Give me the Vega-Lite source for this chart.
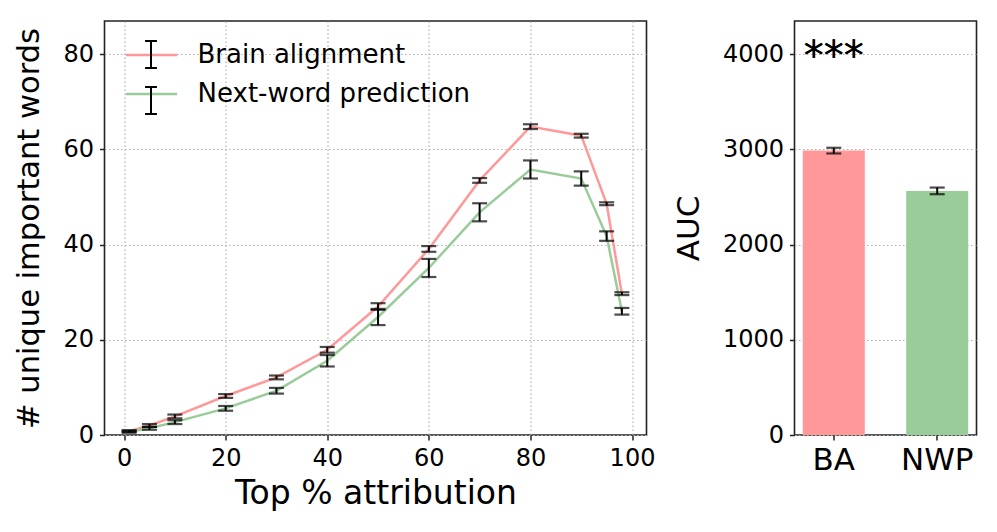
{
  "$schema": "https://vega.github.io/schema/vega-lite/v6.json",
  "padding": {"left": 13.5, "top": 20, "right": 5, "bottom": 5},
  "bounds": "flush",
  "spacing": 148,
  "resolve": {"scale": {"color": "independent"}, "legend": {"color": "independent"}},
  "config": {
    "font": "DejaVu Sans",
    "view": {"stroke": "#222222", "strokeWidth": 1.6},
    "axis": {
      "domain": false,
      "tickColor": "#222222",
      "tickSize": 5,
      "tickWidth": 1.5,
      "labelFontSize": 24,
      "labelColor": "black",
      "titleFontSize": 31,
      "titleFontWeight": "normal",
      "titleColor": "black",
      "gridColor": "#b0b0b0",
      "gridDash": [1.5, 2.5],
      "gridWidth": 1.2,
      "labelPadding": 6
    }
  },
  "hconcat": [
    {
      "width": 542,
      "height": 414,
      "data": {
        "values": [
          {"pct": 1, "series": "Brain alignment", "mean": 0.8, "lo": 0.6, "hi": 1.0},
          {"pct": 5, "series": "Brain alignment", "mean": 2.0, "lo": 1.7, "hi": 2.3},
          {"pct": 10, "series": "Brain alignment", "mean": 3.9, "lo": 3.5, "hi": 4.3},
          {"pct": 20, "series": "Brain alignment", "mean": 8.2, "lo": 7.8, "hi": 8.6},
          {"pct": 30, "series": "Brain alignment", "mean": 12.1, "lo": 11.7, "hi": 12.5},
          {"pct": 40, "series": "Brain alignment", "mean": 17.9, "lo": 17.3, "hi": 18.5},
          {"pct": 50, "series": "Brain alignment", "mean": 27.0, "lo": 26.3, "hi": 27.7},
          {"pct": 60, "series": "Brain alignment", "mean": 39.1, "lo": 38.5, "hi": 39.7},
          {"pct": 70, "series": "Brain alignment", "mean": 53.5, "lo": 53.0, "hi": 54.0},
          {"pct": 80, "series": "Brain alignment", "mean": 64.8, "lo": 64.3, "hi": 65.3},
          {"pct": 90, "series": "Brain alignment", "mean": 62.9, "lo": 62.5, "hi": 63.3},
          {"pct": 95, "series": "Brain alignment", "mean": 48.6, "lo": 48.3, "hi": 48.9},
          {"pct": 98, "series": "Brain alignment", "mean": 29.7, "lo": 29.4, "hi": 30.0},
          {"pct": 1, "series": "Next-word prediction", "mean": 0.7, "lo": 0.5, "hi": 0.9},
          {"pct": 5, "series": "Next-word prediction", "mean": 1.4, "lo": 1.1, "hi": 1.7},
          {"pct": 10, "series": "Next-word prediction", "mean": 2.7, "lo": 2.3, "hi": 3.1},
          {"pct": 20, "series": "Next-word prediction", "mean": 5.6, "lo": 5.1, "hi": 6.1},
          {"pct": 30, "series": "Next-word prediction", "mean": 9.3, "lo": 8.7, "hi": 9.9},
          {"pct": 40, "series": "Next-word prediction", "mean": 15.6, "lo": 14.4, "hi": 16.8},
          {"pct": 50, "series": "Next-word prediction", "mean": 24.8, "lo": 23.1, "hi": 26.5},
          {"pct": 60, "series": "Next-word prediction", "mean": 35.1, "lo": 33.2, "hi": 37.0},
          {"pct": 70, "series": "Next-word prediction", "mean": 46.8, "lo": 44.9, "hi": 48.7},
          {"pct": 80, "series": "Next-word prediction", "mean": 55.8, "lo": 53.9, "hi": 57.7},
          {"pct": 90, "series": "Next-word prediction", "mean": 53.9, "lo": 52.4, "hi": 55.4},
          {"pct": 95, "series": "Next-word prediction", "mean": 41.8, "lo": 40.8, "hi": 42.8},
          {"pct": 98, "series": "Next-word prediction", "mean": 26.0, "lo": 25.3, "hi": 26.7}
        ]
      },
      "encoding": {
        "x": {
          "field": "pct",
          "type": "quantitative",
          "scale": {"domain": [-3.85, 102.85], "nice": false, "zero": false},
          "axis": {"values": [0, 20, 40, 60, 80, 100], "title": "Top % attribution", "titleFontSize": 33, "grid": true, "titlePadding": 7}
        }
      },
      "layer": [
        {
          "mark": {"type": "line", "strokeWidth": 2.5},
          "encoding": {
            "y": {
              "field": "mean",
              "type": "quantitative",
              "scale": {"domain": [0, 87], "nice": false},
              "axis": {"values": [0, 20, 40, 60, 80], "title": "# unique important words", "titleFontSize": 30.5, "grid": true, "titlePadding": 18}
            },
            "color": {
              "field": "series",
              "type": "nominal",
              "scale": {"domain": ["Brain alignment", "Next-word prediction"], "range": ["#ff9999", "#99cc99"]},
              "legend": {
                "orient": "none", "legendX": 32, "legendY": 19, "title": null,
                "symbolType": "M-1.9,0L1.9,0", "symbolSize": 729, "symbolStrokeWidth": 2.5,
                "labelFontSize": 26, "labelColor": "black", "labelOffset": 31, "labelLimit": 500, "rowPadding": 11, "padding": 0
              }
            }
          }
        },
        {
          "mark": {"type": "rule", "color": "black", "strokeWidth": 2},
          "encoding": {
            "y": {"field": "lo", "type": "quantitative"},
            "y2": {"field": "hi"},
            "strokeDash": {
              "field": "series",
              "type": "nominal",
              "scale": {"domain": ["Brain alignment", "Next-word prediction"], "range": [[1, 0], [1, 0]]},
              "legend": {
                "orient": "none", "legendX": 32, "legendY": 19, "title": null,
                "symbolType": "M-0.44,-1L0.44,-1M0,-1L0,1M-0.44,1L0.44,1", "symbolSize": 729,
                "symbolStrokeColor": "black", "symbolStrokeWidth": 2, "symbolFillColor": "transparent",
                "labelFontSize": 26, "labelExpr": "''", "labelOffset": 31, "rowPadding": 11, "padding": 0
              }
            }
          }
        },
        {
          "mark": {"type": "tick", "color": "black", "orient": "horizontal", "size": 15, "thickness": 2.2},
          "encoding": {"y": {"field": "lo", "type": "quantitative"}}
        },
        {
          "mark": {"type": "tick", "color": "black", "orient": "horizontal", "size": 15, "thickness": 2.2},
          "encoding": {"y": {"field": "hi", "type": "quantitative"}}
        }
      ]
    },
    {
      "width": 182,
      "height": 414,
      "data": {
        "values": [
          {"model": "BA", "auc": 2988, "lo": 2958, "hi": 3018},
          {"model": "NWP", "auc": 2565, "lo": 2530, "hi": 2600}
        ]
      },
      "encoding": {
        "x": {
          "field": "model",
          "type": "nominal",
          "scale": {"paddingInner": 0.4, "paddingOuter": 0.08},
          "axis": {"title": null, "labelAngle": 0, "labelFontSize": 31, "grid": false, "labelPadding": 5}
        }
      },
      "layer": [
        {
          "mark": {"type": "bar"},
          "encoding": {
            "y": {
              "field": "auc",
              "type": "quantitative",
              "scale": {"domain": [0, 4350], "nice": false},
              "axis": {"values": [0, 1000, 2000, 3000, 4000], "format": "d", "title": "AUC", "grid": true, "titlePadding": 17}
            },
            "color": {"field": "model", "type": "nominal", "scale": {"domain": ["BA", "NWP"], "range": ["#ff9999", "#99cc99"]}, "legend": null}
          }
        },
        {
          "mark": {"type": "rule", "color": "black", "strokeWidth": 2},
          "encoding": {"y": {"field": "lo", "type": "quantitative"}, "y2": {"field": "hi"}}
        },
        {
          "mark": {"type": "tick", "color": "black", "orient": "horizontal", "size": 15, "thickness": 2.2},
          "encoding": {"y": {"field": "lo", "type": "quantitative"}}
        },
        {
          "mark": {"type": "tick", "color": "black", "orient": "horizontal", "size": 15, "thickness": 2.2},
          "encoding": {"y": {"field": "hi", "type": "quantitative"}}
        },
        {
          "mark": {"type": "text", "text": "***", "fontSize": 40, "baseline": "alphabetic", "align": "center", "color": "black"},
          "encoding": {"x": {"datum": "BA"}, "y": {"datum": 3830}}
        }
      ]
    }
  ]
}
